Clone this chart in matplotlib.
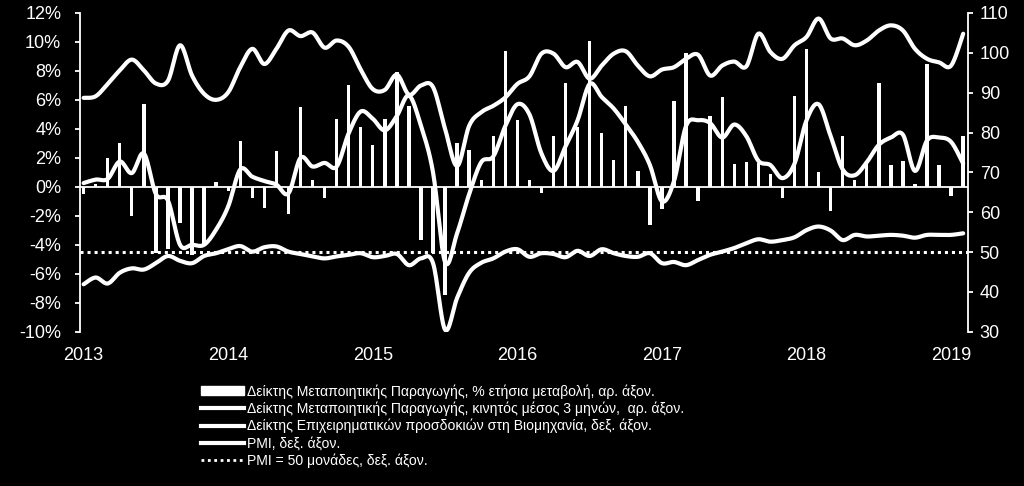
import numpy as np
import matplotlib
matplotlib.use("Agg")
import matplotlib.pyplot as plt
from matplotlib import font_manager
from matplotlib.lines import Line2D
from matplotlib.patches import Patch

# monthly data, Jan 2013 - Feb 2019
ip_yoy = [-0.5, 0.2, 2.0, 3.0, -2.0, 5.7, -4.6, -4.3, -2.5, -4.7, -4.1, 0.3,
          -0.3, 3.15, -0.75, -1.45, 2.45, -1.9, 5.5, 0.5, -0.75, 4.7, 7.05, 4.1,
          2.9, 4.7, 7.9, 5.6, -3.65, -4.6, -7.5, 3.0, 2.55, 0.45, 3.5, 9.4,
          4.6, 0.5, -0.4, 3.5, 7.2, 4.1, 10.1, 3.7, 1.85, 5.6, 1.1, -2.6,
          -1.55, 5.9, 9.25, -0.95, 4.9, 6.2, 1.6, 1.7, 1.65, 0.9, -0.75, 6.25,
          9.5, 1.0, -1.7, 3.5, 0.5, 1.65, 7.2, 1.5, 1.8, 0.2, 8.45, 1.5,
          -0.6, 3.5]
ip_ma3 = [0.26, 0.5, 0.55, 1.75, 0.95, 2.3, -0.5, -0.95, -4.0, -4.0, -4.0, -2.95,
          -1.35, 1.2, 0.7, 0.4, 0.15, -0.45, 2.0, 1.4, 1.65, 1.4, 3.7, 5.2,
          4.7, 3.9, 4.9, 6.3, 4.2, 1.0, -5.2, -3.2, -0.5, 1.7, 2.1, 4.2,
          5.7, 5.0, 2.3, 1.1, 2.8, 4.6, 7.1, 6.2, 5.4, 4.3, 3.1, 1.5,
          -1.0, 0.4, 4.2, 4.6, 4.4, 3.4, 4.3, 3.5, 1.8, 1.5, 0.6, 1.6,
          4.6, 5.7, 3.5, 1.2, 0.8, 1.7, 2.9, 3.4, 3.6, 1.1, 3.2, 3.4,
          3.1, 1.6]
expect = [88.7, 89.1, 92.2, 95.6, 98.3, 95.6, 92.3, 93.0, 101.9, 94.3, 89.7, 88.2,
          90.1, 96.4, 101.0, 97.2, 101.0, 105.6, 104.2, 105.1, 101.3, 103.1, 101.5, 95.8,
          90.9, 90.7, 94.5, 89.5, 91.8, 91.4, 80.9, 71.6, 81.7, 85.1, 86.7, 88.8,
          92.2, 94.1, 99.8, 99.8, 96.4, 97.7, 93.5, 96.8, 99.8, 100.4, 96.8, 94.1,
          95.8, 96.4, 98.5, 99.5, 94.3, 96.8, 97.8, 96.6, 104.8, 100.2, 98.5, 101.9,
          104.0, 108.6, 103.6, 103.6, 101.9, 103.1, 105.6, 106.9, 105.6, 101.0, 98.5, 97.6,
          96.8, 104.8]
pmi = [41.9, 43.6, 42.1, 44.8, 45.9, 45.6, 47.2, 49.0, 47.8, 47.2, 49.0, 49.7,
       50.7, 51.5, 50.1, 51.2, 51.4, 50.1, 49.5, 48.9, 48.4, 48.9, 49.3, 49.7,
       48.7, 49.0, 49.5, 46.7, 48.4, 47.2, 30.5, 38.5, 44.8, 47.3, 48.4, 50.1,
       50.7, 48.8, 49.7, 49.5, 48.7, 50.3, 49.0, 50.7, 49.7, 49.0, 48.8, 49.7,
       47.2, 47.5, 46.7, 48.0, 49.3, 50.1, 51.0, 52.2, 53.2, 52.6, 53.0, 53.7,
       55.5, 56.4, 55.4, 53.0, 54.3, 53.9, 54.1, 54.3, 54.1, 53.6, 54.3, 54.3,
       54.3, 54.7]
pmi_ref = 50
years = ["2013", "2014", "2015", "2016", "2017", "2018", "2019"]

labels = ["Δείκτης Μεταποιητικής Παραγωγής, % ετήσια μεταβολή, αρ. άξον.",
          "Δείκτης Μεταποιητικής Παραγωγής, κινητός μέσος 3 μηνών,  αρ. άξον.",
          "Δείκτης Επιχειρηματικών προσδοκιών στη Βιομηχανία, δεξ. άξον.",
          "PMI, δεξ. άξον.",
          "PMI = 50 μονάδες, δεξ. άξον."]


def smooth(x, y, n=16):
    # excel-like smoothed line (catmull-rom as bezier)
    x = np.asarray(x, float)
    y = np.asarray(y, float)
    t = np.linspace(0, 1, n, endpoint=False)[:, None]
    pts = []
    for i in range(len(x) - 1):
        a = max(i - 1, 0)
        b = min(i + 2, len(x) - 1)
        p0 = np.array([x[i], y[i]])
        p3 = np.array([x[i + 1], y[i + 1]])
        p1 = p0 + (p3 - np.array([x[a], y[a]])) / 6
        p2 = p3 - (np.array([x[b], y[b]]) - p0) / 6
        seg = ((1 - t) ** 3) * p0 + 3 * ((1 - t) ** 2) * t * p1 + 3 * (1 - t) * t ** 2 * p2 + t ** 3 * p3
        pts.append(seg)
    pts.append(np.array([[x[-1], y[-1]]]))
    pts = np.vstack(pts)
    return pts[:, 0], pts[:, 1]


names = {f.name for f in font_manager.fontManager.ttflist}
narrow = "Liberation Sans Narrow" in names
leg_font = "Liberation Sans Narrow" if narrow else "Liberation Sans"
leg_size = 12.0 if narrow else 10.1

plt.rcParams["font.family"] = ["Liberation Sans", "DejaVu Sans"]

x = np.arange(len(ip_yoy))
fg = "white"
lw = 3.0

fig = plt.figure(figsize=(10.24, 4.86), dpi=100, facecolor="black")
ax = fig.add_axes([80 / 1024, 1 - 331.7 / 486, 888 / 1024, (331.7 - 13) / 486])
ax.set_facecolor("black")
ax2 = ax.twinx()

ax.bar(x, ip_yoy, width=0.28, color=fg, zorder=2)
ax.axhline(0, color=fg, lw=1.3, zorder=3)
sx, sy = smooth(x, ip_ma3)
ax.plot(sx, sy, color=fg, lw=lw, solid_capstyle="round", zorder=4)

sx, sy = smooth(x, expect)
ax2.plot(sx, sy, color=fg, lw=lw, solid_capstyle="round")
sx, sy = smooth(x, pmi)
ax2.plot(sx, sy, color=fg, lw=lw, solid_capstyle="round")
ax2.axhline(pmi_ref, color=fg, lw=2.2, ls=(0, (1, 1.3)))

ax.set_xlim(-0.3, 73.4)
ax.set_ylim(-10, 12)
ax2.set_ylim(30, 110)
ax.set_yticks(np.arange(-10, 13, 2))
ax.set_yticklabels([f"{v}%" for v in range(-10, 13, 2)])
ax2.set_yticks(np.arange(30, 111, 10))
ax.set_xticks(np.arange(0, 73, 12))
ax.set_xticklabels(years)

for a in (ax, ax2):
    for s in ("top", "bottom"):
        a.spines[s].set_visible(False)
    a.spines["left"].set_color(fg)
    a.spines["right"].set_color(fg)
    a.spines["left"].set_linewidth(1.3)
    a.spines["right"].set_linewidth(1.3)
ax.spines["right"].set_visible(False)
ax2.spines["left"].set_visible(False)

ax.tick_params(axis="y", colors=fg, labelsize=13, length=3.5, width=1.3, pad=10)
ax.tick_params(axis="x", colors=fg, labelsize=13, length=0, pad=11)
ax2.tick_params(axis="y", colors=fg, labelsize=13, length=3.5, width=1.3, pad=5)

handles = [Patch(facecolor=fg, edgecolor=fg),
           Line2D([], [], color=fg, lw=lw),
           Line2D([], [], color=fg, lw=lw),
           Line2D([], [], color=fg, lw=lw),
           Line2D([], [], color=fg, lw=2.0, ls=(0, (1, 1.3)))]
leg = fig.legend(handles, labels, loc="upper left", bbox_to_anchor=(194 / 1024, 1 - 377 / 486),
                 frameon=False, borderpad=0, labelspacing=0.21, handlelength=3.05,
                 handleheight=0.6, handletextpad=0.2,
                 prop={"family": leg_font, "size": leg_size})
for t in leg.get_texts():
    t.set_color(fg)

fig.savefig("out.png", dpi=100, facecolor="black")
